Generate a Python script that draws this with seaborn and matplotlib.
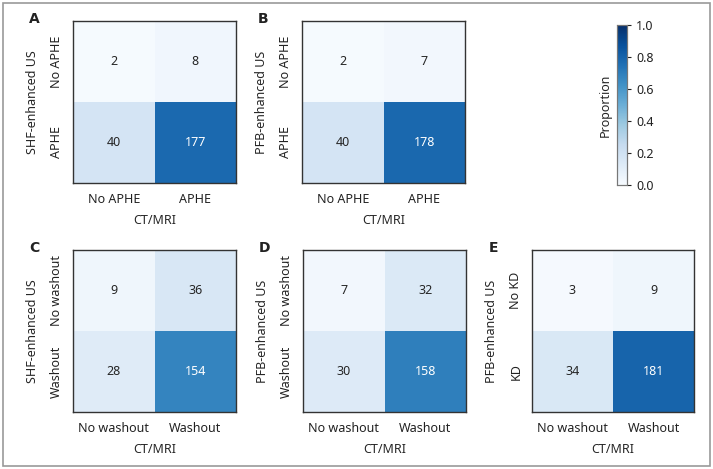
import numpy as np
import seaborn as sns
import matplotlib.pyplot as plt
from matplotlib.patches import Rectangle

# confusion counts (rows: US, cols: CT/MRI)
counts_a = [[2, 8], [40, 177]]
counts_b = [[2, 7], [40, 178]]
counts_c = [[9, 36], [28, 154]]
counts_d = [[7, 32], [30, 158]]
counts_e = [[3, 9], [34, 181]]

aphe_labels = ["No APHE", "APHE"]
washout_labels = ["No washout", "Washout"]
kd_labels = ["No KD", "KD"]

sns.set_style("white")
plt.rcParams['font.family'] = ['Noto Sans', 'DejaVu Sans']
plt.rcParams['text.color'] = '#222222'

W, H = 713, 469
fig = plt.figure(figsize=(W / 100, H / 100), dpi=100)


def px_axes(x0, y0, x1, y1):
    return fig.add_axes([x0 / W, 1 - y1 / H, (x1 - x0) / W, (y1 - y0) / H])


panels = [
    ("A", counts_a, aphe_labels, aphe_labels, "SHF-enhanced US", (73, 21, 236, 183)),
    ("B", counts_b, aphe_labels, aphe_labels, "PFB-enhanced US", (302, 21, 465, 183)),
    ("C", counts_c, washout_labels, washout_labels, "SHF-enhanced US", (73, 250, 236, 412)),
    ("D", counts_d, washout_labels, washout_labels, "PFB-enhanced US", (303, 250, 466, 412)),
    ("E", counts_e, washout_labels, kd_labels, "PFB-enhanced US", (532, 250, 694, 412)),
]

cax = px_axes(617, 25, 627, 185)

for i, (letter, counts, xlab, ylab, ytitle, box) in enumerate(panels):
    ax = px_axes(*box)
    arr = np.array(counts)
    prop = arr / arr.sum()
    sns.heatmap(prop, ax=ax, cmap="Blues", vmin=0, vmax=1, annot=arr, fmt="d",
                annot_kws={"fontsize": 9}, xticklabels=xlab, yticklabels=ylab,
                cbar=(i == 0), cbar_ax=cax if i == 0 else None,
                cbar_kws={"label": "Proportion"} if i == 0 else None)
    ax.tick_params(axis='both', length=0, labelsize=9, pad=7, colors='#222222')
    ax.set_yticklabels(ylab, rotation=90, va='center')
    ax.set_xticklabels(xlab, rotation=0)
    ax.set_xlabel("CT/MRI", fontsize=9, labelpad=6)
    ax.set_ylabel(ytitle, fontsize=9, labelpad=8)
    for s in ax.spines.values():
        s.set_visible(True)
        s.set_color('#333333')
        s.set_linewidth(1)
    x0, y0 = box[0], box[1]
    fig.text((x0 - 39) / W, 1 - (y0 - 2) / H, letter, fontsize=10,
             fontweight='bold', family='DejaVu Sans', ha='center', va='center')

cax.tick_params(labelsize=9, length=3, width=0.8, colors='#222222')
cax.set_yticks([0, 0.2, 0.4, 0.6, 0.8, 1.0])
cax.set_yticklabels(["0.0", "0.2", "0.4", "0.6", "0.8", "1.0"])
cax.yaxis.set_label_position('left')
cax.set_ylabel("Proportion", fontsize=9, labelpad=4)
for s in cax.spines.values():
    s.set_visible(True)
    s.set_color('#777777')
    s.set_linewidth(0.8)

fig.patches.append(Rectangle((3 / W, 3 / H), 1 - 6 / W, 1 - 6 / H,
                             transform=fig.transFigure, fill=False,
                             edgecolor='#999999', linewidth=1.2))

fig.savefig("out.png", dpi=100)
